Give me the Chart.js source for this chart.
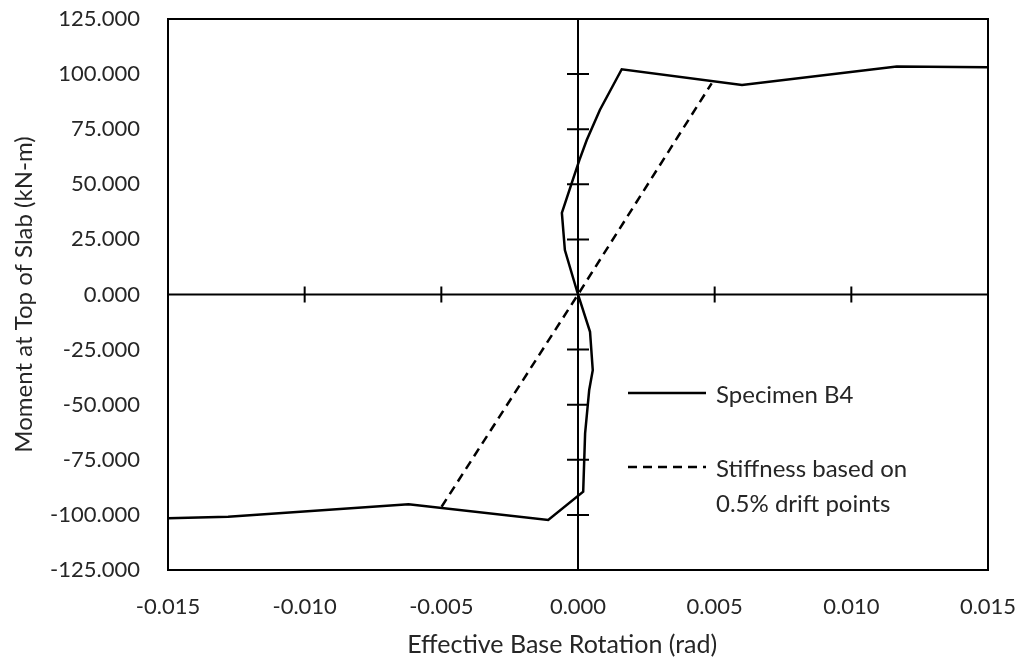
<!DOCTYPE html>
<html>
<head>
<meta charset="utf-8">
<script src="https://cdn.jsdelivr.net/npm/chart.js@4/dist/chart.umd.min.js"></script>
<style>
html,body{margin:0;padding:0;background:#fff;}
canvas{display:block;}
</style>
</head>
<body>
<canvas id="c" width="1024" height="667"></canvas>
<script>
// ---- data ----
const specimenX = [-0.0150, -0.0128, -0.0062, -0.00109, 0.00019, 0.00026, 0.00041, 0.00054, 0.00044, 0.0000,
                   -0.00048, -0.00059, -0.00023, 0.00005, 0.00032, 0.0008, 0.0016, 0.0060, 0.01166, 0.0150];
const specimenY = [-101.5, -100.8, -95.2, -102.3, -89.5, -63.0, -43.3, -34.3, -16.9, 0.0,
                   20.2, 37.0, 50.5, 61.0, 70.1, 83.7, 102.2, 95.1, 103.4, 103.1];
const stiffX = [-0.00499, 0.0, 0.00489];
const stiffY = [-96.3, 0.0, 95.8];
const xTicks = [-0.015, -0.010, -0.005, 0.000, 0.005, 0.010, 0.015];
const yTicks = [-125, -100, -75, -50, -25, 0, 25, 50, 75, 100, 125];
const seriesNames = ["Specimen B4", ["Stiffness based on", "0.5% drift points"]];
const xTitle = "Effective Base Rotation (rad)";
const yTitle = "Moment at Top of Slab (kN-m)";

const toPts = (xs, ys) => xs.map((x, i) => ({x: x, y: ys[i]}));
const FONT = "Lato";
const TXT = "#262626";

const PAD = {left: 0, top: 19, right: 36, bottom: 0};
const AREA = {left: 168, bottom: 570};

const crossAxes = {
  id: 'crossAxes',
  afterDatasetsDraw(chart) {
    const {ctx, chartArea: a, scales: {x, y}} = chart;
    ctx.save();
    ctx.strokeStyle = '#000';
    ctx.lineWidth = 2;
    ctx.strokeRect(a.left, a.top, a.right - a.left, a.bottom - a.top);
    const x0 = x.getPixelForValue(0), y0 = y.getPixelForValue(0);
    ctx.beginPath();
    ctx.moveTo(a.left, y0); ctx.lineTo(a.right, y0);
    ctx.moveTo(x0, a.top); ctx.lineTo(x0, a.bottom);
    xTicks.forEach(v => {
      if (v === xTicks[0] || v === xTicks[xTicks.length - 1] || v === 0) return;
      const px = x.getPixelForValue(v);
      ctx.moveTo(px, y0 - 8); ctx.lineTo(px, y0 + 8);
    });
    yTicks.forEach(v => {
      if (v === yTicks[0] || v === yTicks[yTicks.length - 1] || v === 0) return;
      const py = y.getPixelForValue(v);
      ctx.moveTo(x0 - 11, py); ctx.lineTo(x0 + 11, py);
    });
    ctx.stroke();

    // legend
    const ds = chart.data.datasets;
    const lx = 628, lw = 78, tx = 716;
    const rows = [393, 467];
    ctx.font = "24px " + FONT;
    ctx.fillStyle = TXT;
    ctx.textBaseline = 'middle';
    ctx.textAlign = 'left';
    ds.forEach((d, i) => {
      const yy = rows[i];
      ctx.beginPath();
      ctx.lineWidth = d.borderWidth;
      ctx.setLineDash(d.borderDash || []);
      ctx.moveTo(lx, yy); ctx.lineTo(lx + lw, yy);
      ctx.stroke();
      ctx.setLineDash([]);
      const lab = Array.isArray(seriesNames[i]) ? seriesNames[i] : [seriesNames[i]];
      lab.forEach((t, j) => ctx.fillText(t, tx, yy + 2 + j * 35));
    });

    // x axis title (centred on the whole chart, as in the reference)
    ctx.font = "25px " + FONT;
    ctx.textAlign = 'center';
    ctx.textBaseline = 'middle';
    ctx.fillText(xTitle, chart.width * 0.549, 645);
    ctx.restore();
  }
};

new Chart(document.getElementById('c'), {
  type: 'scatter',
  data: {
    datasets: [
      {label: seriesNames[0], data: toPts(specimenX, specimenY), showLine: true, borderColor: '#000',
       borderWidth: 2.5, pointRadius: 0, tension: 0, fill: false},
      {label: seriesNames[1].join(' '), data: toPts(stiffX, stiffY), showLine: true, borderColor: '#000',
       borderWidth: 2.5, borderDash: [9, 6], pointRadius: 0, tension: 0, fill: false}
    ]
  },
  options: {
    responsive: false,
    animation: false,
    layout: {padding: PAD},
    plugins: {legend: {display: false}, tooltip: {enabled: false}},
    scales: {
      x: {
        type: 'linear', min: -0.015, max: 0.015,
        afterBuildTicks: s => { s.ticks = xTicks.map(v => ({value: v})); },
        afterFit: s => { s.height = 667 - AREA.bottom; s.paddingLeft = 0; s.paddingRight = 0; },
        grid: {display: false, drawTicks: false},
        border: {display: false},
        ticks: {padding: 24, color: TXT, font: {family: FONT, size: 22},
                maxRotation: 0, callback: v => Number(v).toFixed(3)},
        title: {display: false, text: xTitle}
      },
      y: {
        type: 'linear', min: -125, max: 125,
        afterBuildTicks: s => { s.ticks = yTicks.map(v => ({value: v})); },
        afterFit: s => { s.width = AREA.left; s.paddingTop = 0; s.paddingBottom = 0; },
        grid: {display: false, drawTicks: false},
        border: {display: false},
        ticks: {padding: 28, color: TXT, font: {family: FONT, size: 22},
                callback: v => Number(v).toFixed(3)},
        title: {display: true, text: yTitle, color: TXT, font: {family: FONT, size: 24}, padding: {top: 10, bottom: 4}}
      }
    }
  },
  plugins: [crossAxes]
});
</script>
</body>
</html>
